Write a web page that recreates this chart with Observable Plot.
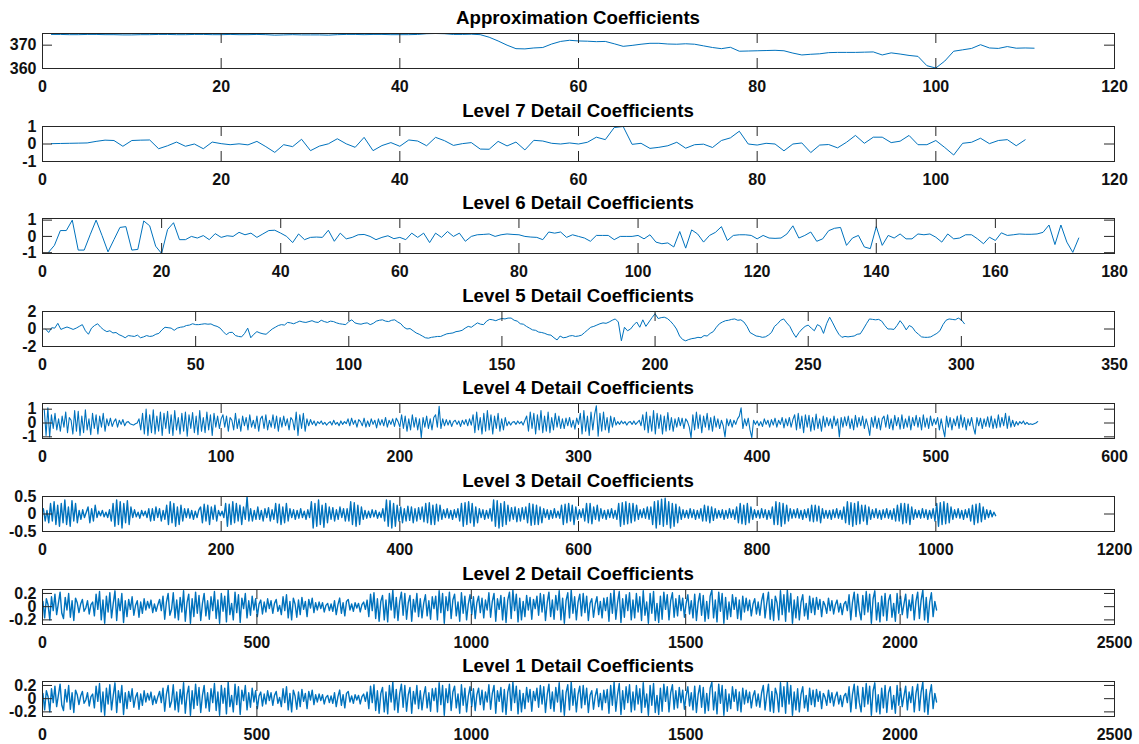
<!DOCTYPE html>
<html>
<head>
<meta charset="utf-8">
<script src="https://cdn.jsdelivr.net/npm/d3@7"></script>
<script src="https://cdn.jsdelivr.net/npm/@observablehq/plot@0.6"></script>
<style>
  html, body { margin: 0; padding: 0; background: #fff; overflow: hidden; }
  #figure { position: relative; width: 1139px; height: 744px; font-family: "Liberation Sans", Arial, Helvetica, sans-serif; }
  .panel-title { position: absolute; left: 42px; width: 1072px; text-align: center; font-weight: bold; font-size: 18.7px; line-height: 19px; color: #000; white-space: nowrap; }
  .panel-plot { position: absolute; left: 0; }
</style>
</head>
<body>
<div id="figure"></div>
<script>
// ---- Wavelet decomposition: coefficients per level ----

const approxValues = [
  374.6, 374.6, 374.5, 374.5, 374.6, 374.6, 374.5, 374.5, 374.4, 374.4,
  374.5, 374.5, 374.6, 374.6, 374.5, 374.5, 374.6, 374.6, 374.5, 374.5,
  374.6, 374.5, 374.5, 374.6, 374.5, 374.3, 374.4, 374.5, 374.4, 374.4,
  374.4, 374.3, 374.5, 374.6, 374.6, 374.5, 374.6, 374.6, 374.5, 374.5,
  374.5, 374.6, 374.9, 375.0, 374.9, 374.6, 374.6, 374.7, 374.5, 373.4,
  371.8, 370.0, 368.5, 368.4, 368.8, 369.0, 370.5, 371.6, 372.1, 371.8,
  371.7, 371.5, 371.6, 370.6, 369.5, 369.9, 370.4, 370.8, 370.8, 370.5,
  370.4, 370.6, 370.4, 369.7, 369.0, 368.5, 369.1, 367.4, 367.5, 367.6,
  367.7, 367.8, 367.6, 366.6, 365.8, 366.1, 366.3, 366.8, 366.9, 366.9,
  366.9, 367.0, 367.1, 365.8, 366.7, 366.2, 365.6, 365.2, 361.2, 360.2,
  363.2, 367.4, 368.0, 368.6, 370.2, 368.8, 368.6, 369.4, 368.7, 368.8, 368.7
];

const level7Values = [
  0.02, 0.03, 0.04, 0.05, 0.06, 0.15, 0.22, 0.2, -0.13, 0.2,
  0.22, 0.23, -0.27, -0.1, 0.11, -0.13, 0, -0.27, 0.11, 0.02,
  -0.04, 0.01, -0.05, 0.15, -0.15, -0.48, -0.04, -0.15, 0.27, -0.38,
  -0.12, 0.01, 0.3, 0.01, -0.19, 0.38, -0.38, -0.09, 0.08, -0.13,
  0.23, 0.17, -0.1, 0.38, 0.19, -0.08, 0.02, 0.08, -0.29, -0.3,
  0.15, -0.11, 0.11, -0.34, 0.21, 0.17, 0.04, 0, 0.06, 0,
  0.1, 0.39, 0.25, 0.94, 1.0, -0.02, 0.04, -0.25, -0.19, -0.1,
  0.1, -0.24, -0.04, -0.01, -0.2, 0.2, 0.35, 0.73, 0, -0.06,
  0.04, 0, -0.39, 0, 0.06, -0.49, -0.06, -0.03, -0.22, 0.1,
  0.49, 0.04, 0.39, 0.39, 0.08, 0.16, 0.49, -0.04, -0.04, 0.2,
  -0.2, -0.63, 0.04, 0.1, 0.33, 0.02, 0.2, 0.25, -0.1, 0.24
];

const level6Values = [
  -0.98, -0.55, 0.36, 0.36, 1.0, -0.84, -0.84, 0.1, 1.0, 0.05,
  -0.95, -0.2, 0.55, 0.6, -0.84, -0.8, 0.95, 0.65, -0.6, -1.05,
  0.42, 0.84, -0.2, -0.2, 0.0, -0.1, 0.05, -0.2, 0.17, -0.06,
  0.04, 0.0, 0.25, 0.1, 0.2, -0.06, 0.15, 0.36, 0.38, 0.2,
  0.0, -0.38, 0.15, -0.2, -0.06, -0.04, -0.06, 0.38, -0.3, 0.2,
  -0.15, -0.06, 0.1, 0.12, 0.0, -0.2, -0.06, 0.04, -0.14, -0.06,
  -0.2, 0.2, -0.06, 0.2, -0.38, 0.2, -0.06, 0.3, 0.0, 0.2,
  -0.3, 0.0, 0.1, 0.12, 0.15, 0.0, 0.1, 0.15, 0.12, 0.1,
  0.0, -0.04, -0.06, -0.2, 0.27, 0.2, 0.27, -0.06, 0.1, 0.0,
  -0.1, -0.3, 0.06, 0.06, 0.06, -0.2, 0.0, 0.0, 0.0, 0.06,
  -0.15, 0.1, -0.35, -0.45, -0.4, -0.65, 0.3, -0.72, 0.4, 0.15,
  -0.35, 0.06, 0.25, 0.6, -0.25, 0.06, 0.1, 0.1, 0.06, -0.15,
  0.06, -0.1, -0.12, -0.1, 0.15, 0.65, -0.1, 0.06, 0.27, -0.3,
  -0.15, 0.35, 0.5, 0.55, -0.55, -0.1, 0.06, -0.65, -0.75, 0.6,
  -0.55, 0.06, -0.1, 0.15, -0.15, -0.15, 0.15, 0.1, 0.15, -0.05,
  -0.35, 0.15, -0.15, -0.1, 0.1, 0.1, -0.15, -0.45, -0.05, -0.25,
  0.22, 0.06, 0.1, 0.15, 0.13, 0.13, 0.15, 0.25, 0.7, -0.5,
  0.7, -0.35, -0.98, -0.1
];

const level5Values = [
  0.0, -0.4, 0.15, 0.1, 0.65, -0.05, 0.1, 0.23, 0.1, -0.05,
  0.1, 0.3, 0.5, -0.2, -0.6, 0.1, 0.4, 0.6, 0.2, -0.1,
  -0.3, -0.2, -0.45, -0.4, -0.65, -0.8, -1.0, -0.75, -0.8, -0.85,
  -0.7, -1.0, -0.9, -0.75, -0.85, -0.8, -0.6, -0.5, -0.1, 0.2,
  0.15, 0.1, -0.15, 0.1, 0.2, 0.25, 0.4, 0.45, 0.6, 0.5,
  0.5, 0.55, 0.6, 0.55, 0.58, 0.4, 0.3, 0.1, -0.3, -0.65,
  -0.4, -0.38, -0.75, -0.85, -0.9, -0.5, 0.1, -1.0, -0.6, -0.3,
  -0.45, -0.55, -0.6, -0.3, 0.0, 0.2, 0.4, 0.5, 0.45, 0.75,
  0.7, 0.6, 0.75, 0.9, 0.8, 0.75, 0.85, 0.95, 0.8, 0.75,
  1.0, 0.85, 0.75, 0.9, 0.85, 0.7, 0.6, 0.55, 0.5, 0.85,
  1.05, 0.7, 0.6, 0.55, 0.65, 0.7, 0.5, 0.65, 0.9, 1.0,
  1.05, 0.9, 0.85, 1.0, 1.05, 0.8, 0.6, 0.2, 0.0, 0.05,
  -0.2, -0.45, -0.6, -0.8, -1.0, -1.05, -0.95, -0.9, -0.85, -0.85,
  -0.7, -0.55, -0.5, -0.45, -0.3, -0.25, -0.15, 0.1, 0.3, 0.2,
  0.45, 0.7, 0.55, 0.5, 0.9, 1.1, 1.05, 0.95, 1.1, 1.2,
  1.15, 1.25, 1.25, 1.0, 0.9, 0.6, 0.55, 0.3, 0.1, -0.1,
  -0.15, -0.35, -0.4, -0.5, -0.65, -0.7, -1.0, -1.25, -0.8, -1.0,
  -0.95, -0.8, -0.75, -0.85, -0.8, -0.7, -0.4, -0.1, 0.2, 0.3,
  0.45, 0.6, 0.7, 0.65, 0.8, 1.0, 1.15, 0.8, -1.35, 0.2,
  -0.2, 0.0, 0.45, 0.8, 0.2, 1.05, 0.3, 0.8, 1.3, 1.75,
  1.2, 1.3, 1.35, 1.2, 0.9, 0.5, 0.0, -0.8, -1.2, -1.35,
  -1.2, -1.1, -1.05, -0.95, -1.0, -0.75, -0.8, -0.5, -0.3, 0.2,
  0.6, 0.8, 0.95, 1.0, 1.1, 1.15, 1.0, 1.05, 0.8, 0.3,
  -0.4, -0.6, -0.8, -0.85, -0.95, -0.9, -0.7, -0.4, 0.3, 0.6,
  1.0, 1.15, 0.7, 0.3, -0.4, -0.95, -0.4, 0.0, 0.3, 0.45,
  0.1, -0.2, 0.5, 0.3, -0.5, 0.6, 1.35, 0.7, 0.0, -0.6,
  -0.95, -0.85, -0.9, -0.85, -0.8, -0.6, -0.55, 0.0, 0.6, 1.15,
  1.1, 1.05, 1.1, 0.9, 0.4, 0.0, 0.0, -0.05, 0.4, 0.95,
  0.5, -0.1, 0.4, 0.2, -0.3, -0.6, -0.9, -0.95, -0.95, -0.9,
  -0.7, -0.5, -0.2, 0.5, 1.0, 1.15, 1.1, 1.05, 1.25, 1.05,
  0.6
];

const level4Values = [
  .95,-.9,1.1,-1.0,.6,-.4,.7,-.5,.3,-.6,
  .5,-.3,.8,-.7,.4,.2,-.8,.9,-.6,.85,
  -.9,.5,-.7,.95,-.5,.3,-.85,.7,-.4,.6,
  -.8,.5,-.3,.7,-.6,.3,-.2,.35,-.25,.1,
  .3,-.3,.2,-.1,.25,-.2,.05,.1,-.05,-.1,
  -.15,-.05,0,.3,-.5,.7,-.8,1.0,-.9,.6,
  -.7,.95,-.8,.5,-.6,.8,-.9,.7,-.4,.85,
  -.75,.6,-.9,.9,-.5,.4,-.8,.7,-.6,.8,
  -.95,.6,-.4,.75,-.7,.5,-.85,.9,-.6,.4,
  -.7,.8,-.5,.6,-.9,.7,-.3,.5,-.4,.3,
  .6,-.3,.5,-.6,.4,.2,-.5,.7,-.4,.3,
  -.6,.5,-.2,.4,-.5,.6,-.3,.2,-.4,.5,
  -.6,.3,.5,-.4,.6,-.5,.2,-.3,.6,-.4,
  .5,-.6,.4,-.3,.5,-.2,.3,-.5,.4,.2,
  -.5,.8,-.9,.6,-.4,.7,-.6,.3,-.2,.25,
  -.1,.15,-.2,.1,-.05,.15,-.1,.05,-.15,0,
  .1,-.15,.2,-.1,.05,-.2,.15,-.1,.1,-.05,
  .3,-.2,.35,-.1,.2,-.3,.25,.1,-.2,.35,
  -.3,.15,-.25,.3,-.1,.2,-.35,.3,-.15,.25,
  -.2,.4,-.3,.2,-.1,.3,-.25,.35,.1,-.3,
  .6,-.4,.5,-.6,.3,-.5,.6,-.3,.4,-.5,
  .3,-1.05,.4,-.3,.5,-.4,.3,-.5,.4,.6,
  -.3,1.2,-.4,.3,-.2,.25,-.15,.2,-.25,.1,
  .2,-.1,.15,-.25,.2,-.1,.25,-.2,.3,-.15,
  .6,-.7,.8,-.5,.4,-.8,.7,-.6,.9,-.5,
  .6,-.8,.5,-.4,.7,-.6,.3,-.5,.4,-.2,
  .1,-.15,.05,.1,-.1,.15,-.05,.1,-.15,.2,
  .5,-.6,.8,-.4,.7,-.8,.6,-.5,.9,-.7,
  .5,-.6,.8,-.7,.4,-.5,.7,-.3,.5,-.4,
  .3,-.4,.35,-.2,.4,-.3,.2,-.45,.35,-.1,
  .7,-.8,.9,-.6,.5,-.9,.8,-.5,.6,1.25,
  -.95,.7,-.6,.8,-.5,.4,-.7,.5,-.3,.4,
  -.15,.1,-.1,.15,-.05,.1,-.15,.05,.1,-.1,
  .15,-.1,.05,.2,-.2,.6,-.5,.8,-.7,.5,
  -.6,.9,-.8,.7,-.4,.6,-.8,.5,-.6,.75,
  -.5,.4,-.6,.3,-.3,.4,-.2,.35,-.4,.3,
  .1,-.3,-1.05,.6,-.5,.8,-.4,.6,-.7,.5,
  -.3,.7,-.5,.4,-.6,.5,-.3,.3,-.4,.2,
  -.2,-1.0,.3,-.2,.25,-.3,.2,-.1,.3,.5,
  1.1,-.4,.3,-.2,.35,-.5,-1.05,.2,-.1,.15,
  -.2,.1,-.25,.3,-.1,.2,-.3,.25,-.15,.35,
  -.3,.2,-.1,.4,-.35,.3,-.2,.4,-.3,.25,
  .6,-.5,.7,-.4,.5,-.7,.6,-.3,.55,-.6,
  .4,-.5,.65,-.4,.3,-.6,.5,-.3,.4,-.2,
  .3,-.4,.5,-.2,.3,-1.0,.4,-.3,.45,-.2,
  .5,-.4,.3,-.5,.55,-.3,.4,-.2,.5,-.4,
  .3,-.2,-.9,.4,-.3,.5,-.4,.35,-.5,.3,
  .5,-.3,.6,-.4,.3,-.5,.55,-.2,.4,-.45,
  .6,-.4,.3,-.3,.5,-.5,.4,-.2,.55,-.3,
  .4,-.5,.6,-.3,.35,-.4,.5,-.2,.3,-.1,
  .4,-.5,.3,-.4,-1.0,.5,-.3,.4,-.5,.3,
  -.2,.5,-.4,.6,-.3,.4,-.5,.3,-.2,.4,
  -.3,-.8,.4,-.2,.35,-.4,.3,-.25,.45,-.3,
  .5,-.4,.3,-.35,.6,-.3,.4,-.2,.7,-.4,
  .5,-.3,.2,-.25,.1,-.15,.1,-.05,.15,-.1,
  .05,-.1,-.05,-.1,-.05,0,.1
];

// sampled every 2nd coefficient
const level3Values = [
  .15,-.2,.1,-.25,.3,-.2,.35,-.3,.25,-.35,
  .3,-.25,.4,-.3,.2,-.35,.38,-.2,.3,-.25,
  .1,-.15,.12,-.1,.05,.2,-.25,.15,-.2,.25,
  -.1,.08,-.05,.1,-.08,.05,-.1,.12,-.2,.3,
  -.35,.4,-.3,.35,-.4,.3,-.25,.38,-.3,.2,
  -.1,.12,-.08,.05,-.12,.1,-.05,.08,-.1,.15,
  -.2,.15,-.18,.2,-.1,.15,-.2,.1,-.15,.25,
  -.3,.35,-.25,.3,-.35,.2,-.3,.25,-.2,.15,
  -.1,.15,-.12,.1,-.15,.08,-.1,.12,.2,-.25,
  .28,-.2,.25,-.3,.2,-.15,.25,-.2,.1,-.05,
  .08,-.1,.3,-.35,.28,-.3,.35,-.25,.3,-.2,
  .25,-.3,.2,-.15,.5,-.2,.15,-.2,.1,-.15,
  .2,-.15,.1,-.2,.15,-.1,.18,-.2,.12,-.15,
  .3,-.25,.28,-.3,.2,-.25,.3,-.2,.15,-.1,
  .12,-.15,.1,-.12,.15,-.1,.08,-.15,.12,-.1,
  .35,-.4,.3,-.35,.4,-.3,.25,-.38,.3,-.25,
  .2,-.15,.18,-.2,.12,-.15,.2,-.1,.15,-.2,
  .15,-.2,.35,-.3,.32,-.35,.25,-.3,.2,-.15,
  .1,-.12,.08,-.1,.12,-.08,.1,-.12,.05,-.1,
  .15,-.2,.4,-.35,.38,-.4,.3,-.35,.25,-.2,
  .2,-.25,.15,-.2,.22,-.18,.2,-.25,.15,-.2,
  .18,-.15,.2,-.22,.3,-.25,.32,-.3,.25,-.3,
  .28,-.2,.25,-.15,.12,-.1,.15,-.12,.1,-.15,
  .12,-.1,.15,-.2,.3,-.35,.32,-.3,.35,-.25,
  .3,-.35,.2,-.25,.15,-.1,.12,-.15,.1,-.12,
  .15,-.2,.4,-.35,.38,-.4,.3,-.35,.35,-.3,
  .25,-.2,.18,-.15,.2,-.22,.15,-.2,.18,-.15,
  .2,-.25,.3,-.32,.28,-.3,.25,-.3,.2,-.25,
  .15,-.1,.12,-.15,.1,-.12,.15,-.1,.08,-.12,
  .25,-.3,.28,-.25,.3,-.2,.25,-.3,.2,-.15,
  .12,-.1,.15,-.2,.3,-.25,.3,-.28,.2,-.15,
  .25,-.2,.15,-.12,.1,-.15,.12,-.1,.15,-.12,
  .1,-.15,.3,-.35,.32,-.3,.35,-.28,.3,-.25,
  .3,-.2,.25,-.15,.12,-.1,.15,-.12,.2,-.15,
  .2,-.3,.35,-.4,.38,-.3,.42,-.35,.45,-.3,
  .35,-.4,.3,-.35,.28,-.25,.2,-.15,.12,-.1,
  .1,-.12,.15,-.1,.12,-.15,.1,-.12,.15,-.2,
  .25,-.2,.22,-.25,.2,-.18,.15,-.12,.1,-.1,
  .12,-.15,.1,-.12,.15,-.1,.12,-.15,.2,-.25,
  .3,-.28,.25,-.3,.3,-.25,.2,-.15,.12,-.1,
  .1,-.12,.15,-.1,.12,-.15,.1,-.12,.2,-.3,
  .35,-.3,.32,-.35,.3,-.28,.25,-.2,.15,-.12,
  .12,-.1,.15,-.12,.1,-.15,.12,-.1,.15,-.2,
  .25,-.22,.25,-.2,.22,-.25,.15,-.12,.1,-.12,
  .1,-.15,.12,-.1,.15,-.12,.1,-.15,.2,-.25,
  .35,-.3,.32,-.35,.3,-.3,.35,-.28,.25,-.2,
  .25,-.3,.2,-.15,.12,-.1,.15,-.12,.1,-.15,
  .12,-.1,.15,-.12,.1,-.15,.15,-.2,.25,-.2,
  .3,-.28,.3,-.25,.28,-.3,.2,-.15,.12,-.1,
  .1,-.12,.15,-.1,.12,-.15,.1,-.12,.15,-.2,
  .3,-.35,.32,-.3,.35,-.28,.3,-.25,.2,-.15,
  .12,-.1,.15,-.12,.1,-.15,.12,-.1,.15,-.2,
  .25,-.3,.28,-.25,.3,-.22,.2,-.15,.12,-.1,
  .1,-.08,.05,-.05
];

// sampled every 4th coefficient
const level2Values = [
  .08,-.17,.12,.03,-.2,.15,-.06,.19,-.12,.05,
  .22,-.1,-.18,.14,-.05,.2,-.16,.09,-.21,.13,
  .06,-.09,.04,.11,-.07,-.02,.09,-.11,.03,.07,
  -.14,.19,-.04,.23,-.2,.1,-.25,.16,-.08,.21,
  -.17,.05,.24,-.21,.12,-.06,.2,-.24,.09,-.15,
  .11,-.04,.15,-.13,.02,.09,-.16,.07,-.1,.12,
  -.05,.08,-.02,.1,-.09,.04,-.07,.03,.11,-.06,
  .16,-.19,.07,.2,-.13,-.04,.21,-.17,.1,-.2,
  .14,-.08,.24,-.22,.06,.19,-.25,.12,-.15,.22,
  -.1,.17,-.21,.05,.2,-.14,.09,-.19,.15,-.06,
  .23,-.18,.1,-.25,.2,-.07,.16,-.23,.25,-.12,
  .05,-.2,.22,-.09,.18,-.24,.13,-.03,.2,-.17,
  .09,-.13,.16,-.05,.12,-.15,.04,.1,-.11,.07,
  -.08,.12,-.03,.09,-.1,.05,.11,-.07,.02,-.12,
  .15,-.06,.18,-.17,.08,-.2,.13,.04,-.16,.1,
  -.12,.14,-.04,.08,-.15,.11,-.02,.13,-.09,.06,
  -.05,.07,-.03,.06,-.08,.02,.05,-.06,.04,-.07,
  .09,-.12,.03,.13,-.1,.06,-.14,.08,.11,-.05,
  .04,-.07,.06,-.02,.05,-.08,.03,.07,-.04,.1,
  -.15,.19,-.06,.21,-.18,.12,-.22,.08,.17,-.2,
  .1,-.23,.2,-.05,.25,-.17,.14,-.21,.08,.22,
  -.13,.2,-.19,.06,.17,-.22,.11,-.08,.2,-.15,
  .12,-.17,.05,.18,-.14,.09,-.19,.15,-.03,.16,
  -.2,.24,-.09,.2,-.25,.15,-.06,.22,-.18,.1,
  .19,-.14,.07,-.22,.21,-.1,.16,-.2,.04,.18,
  -.12,.15,-.18,.06,.16,-.09,.13,-.17,.1,-.05,
  .21,-.16,.08,.2,-.22,.12,-.04,.17,-.2,.14,
  -.24,.1,.22,-.18,.25,-.06,.19,-.23,.13,-.2,
  .08,-.15,.17,-.05,.14,-.19,.11,-.03,.16,-.13,
  .2,-.08,.18,-.21,.06,.22,-.15,.1,-.19,.17,
  -.05,.24,-.2,.13,-.25,.09,.21,-.17,.25,-.1,
  .15,-.2,.07,.19,-.14,.2,-.09,.16,-.21,.05,
  .12,-.16,.04,.15,-.12,.08,-.17,.13,-.06,.14,
  -.22,.2,-.1,.25,-.19,.06,.23,-.24,.12,-.16,
  .18,-.06,.21,-.2,.1,-.17,.2,-.08,.15,-.21,
  .24,-.13,.07,-.25,.2,-.1,.23,-.21,.05,-.24,
  .16,-.19,.22,-.04,.18,-.2,.09,.21,-.16,.12,
  -.14,.17,-.06,.13,-.16,.05,.18,-.11,.09,-.17,
  .19,-.21,.06,.2,-.13,.17,-.22,.08,-.18,.16,
  .25,-.17,.1,-.23,.22,-.07,.2,-.25,.14,-.19,
  .07,-.15,.18,-.04,.14,-.18,.1,-.2,.16,-.08,
  .13,-.06,.1,-.14,.04,.12,-.11,.07,-.13,.09,
  .2,-.17,.05,.22,-.19,.11,-.21,.16,.06,-.2,
  .24,-.12,.18,-.22,.25,-.08,.2,-.25,.1,-.17,
  .15,-.2,.07,.18,-.14,.05,-.19,.16,-.09,.13,
  -.12,.14,-.04,.11,-.15,.08,.02,-.1,.13,-.06,
  .09,-.11,.03,.1,-.08,.05,-.12,.04,.08,-.06,
  .18,-.2,.07,.22,-.15,.19,-.06,-.2,.17,-.12,
  .23,-.08,.19,-.25,.12,.24,-.2,.06,-.23,.16,
  -.14,.2,-.21,.09,.18,-.16,.05,-.22,.2,-.1,
  .16,-.12,.04,.19,-.17,.1,-.06,.18,-.2,.08,
  .22,-.18,.1,.25,-.2,.14,-.24,.07,.21,-.15,
  .08,-.05
];

// the level 1 trace is identical to level 2
const level1Values = level2Values;

// ---- Panel definitions ----
const titles = [
  "Approximation Coefficients",
  "Level 7 Detail Coefficients",
  "Level 6 Detail Coefficients",
  "Level 5 Detail Coefficients",
  "Level 4 Detail Coefficients",
  "Level 3 Detail Coefficients",
  "Level 2 Detail Coefficients",
  "Level 1 Detail Coefficients"
];
const series = [approxValues, level7Values, level6Values, level5Values, level4Values, level3Values, level2Values, level1Values];
const sampleSteps = [1, 1, 1, 1, 1, 2, 4, 4];
const strokeWidths = [1, 1, 1, 1, 1.1, 1.4, 1.4, 1.4];

const xTicks120 = [0, 20, 40, 60, 80, 100, 120];
const xTicks180 = [0, 20, 40, 60, 80, 100, 120, 140, 160, 180];
const xTicks350 = [0, 50, 100, 150, 200, 250, 300, 350];
const xTicks600 = [0, 100, 200, 300, 400, 500, 600];
const xTicks1200 = [0, 200, 400, 600, 800, 1000, 1200];
const xTicks2500 = [0, 500, 1000, 1500, 2000, 2500];
const xTicks = [xTicks120, xTicks120, xTicks180, xTicks350, xTicks600, xTicks1200, xTicks2500, xTicks2500];

const yTicks = [[360, 370], [-1, 0, 1], [-1, 0, 1], [-2, 0, 2], [-1, 0, 1], [-0.5, 0, 0.5], [-0.2, 0, 0.2], [-0.2, 0, 0.2]];
const yDomains = [[360, 375], [-1, 1], [-1.05, 1.1], [-2, 2], [-1.12, 1.41], [-0.5, 0.5], [-0.27, 0.26], [-0.27, 0.26]];

// ---- Layout ----
const FIG_W = 1139;
const BOX_L = 42, BOX_R = 1114, BOX_W = BOX_R - BOX_L;
const BOX_H = 35, FIRST_TOP = 33, PITCH = 92.6, TICK = 10;
const M_TOP = 14, M_BOTTOM = 36;
const LINE_COLOR = "#0072BD", AXIS_COLOR = "#262626";
const fig = document.getElementById("figure");

titles.forEach((title, k) => {
  const boxTop = FIRST_TOP + k * PITCH;
  const step = sampleSteps[k];
  const data = series[k].map((v, i) => ({x: 1 + i * step, y: v}));
  const last = xTicks[k][xTicks[k].length - 1];

  const head = document.createElement("div");
  head.className = "panel-title";
  head.style.top = (boxTop - 25) + "px";
  head.textContent = title;
  fig.appendChild(head);

  const chart = Plot.plot({
    width: FIG_W,
    height: M_TOP + BOX_H + M_BOTTOM,
    marginLeft: BOX_L,
    marginRight: FIG_W - BOX_R,
    marginTop: M_TOP,
    marginBottom: M_BOTTOM,
    style: {
      background: "transparent",
      fontFamily: '"Liberation Sans", Arial, Helvetica, sans-serif',
      fontSize: "16px",
      fontWeight: "bold",
      color: "#111",
      overflow: "visible"
    },
    x: {domain: [0, last]},
    y: {domain: yDomains[k]},
    marks: [
      Plot.line(data, {x: "x", y: "y", stroke: LINE_COLOR, strokeWidth: strokeWidths[k], clip: true}),
      Plot.ruleX(xTicks[k], {insetTop: BOX_H - TICK, stroke: AXIS_COLOR}),
      Plot.ruleX(xTicks[k], {insetBottom: BOX_H - TICK, stroke: AXIS_COLOR}),
      Plot.ruleY(yTicks[k], {insetRight: BOX_W - TICK, stroke: AXIS_COLOR}),
      Plot.ruleY(yTicks[k], {insetLeft: BOX_W - TICK, stroke: AXIS_COLOR}),
      Plot.frame({stroke: AXIS_COLOR}),
      Plot.axisX(xTicks[k], {tickSize: 0, tickPadding: 12, tickFormat: (d) => String(d), label: null}),
      Plot.axisY(yTicks[k], {tickSize: 0, tickPadding: 6, tickFormat: (d) => String(d), label: null})
    ]
  });
  chart.classList.add("panel-plot");
  chart.style.position = "absolute";
  chart.style.top = (boxTop - M_TOP) + "px";
  chart.style.left = "0px";
  fig.appendChild(chart);
});
</script>
</body>
</html>
